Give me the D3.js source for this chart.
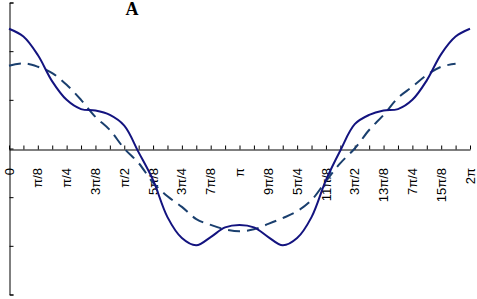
<!DOCTYPE html>
<html>
<head>
<meta charset="utf-8">
<script src="https://cdn.jsdelivr.net/npm/d3@7.9.0/dist/d3.min.js"></script>
<style>
  body { margin: 0; background: #fff; }
  svg { display: block; }
  .lbl { font-family: Arial, "Liberation Sans", sans-serif; font-size: 13px; }
</style>
</head>
<body>
<svg id="chart" width="477" height="299"></svg>
<script>
// Data, sampled every pi/16 from 0 to 2pi
const solidValues = [2.46, 2.30, 1.92, 1.38, 1.00, 0.81, 0.78, 0.69, 0.47, -0.08, -0.65,
  -1.41, -1.84, -1.99, -1.82, -1.62, -1.57, -1.62, -1.82, -1.99, -1.84, -1.41,
  -0.65, -0.04, 0.50, 0.69, 0.78, 0.81, 1.00, 1.40, 1.94, 2.30, 2.46];
const dashedValues = [1.70, 1.75, 1.68, 1.55, 1.31, 1.00, 0.65, 0.38, 0.00, -0.30, -0.70,
  -0.98, -1.20, -1.45, -1.57, -1.66, -1.70, -1.66, -1.55, -1.43, -1.29, -1.06,
  -0.67, -0.30, 0.00, 0.38, 0.69, 1.04, 1.27, 1.51, 1.68, 1.74];
const tickLabels = ["0", "π/8", "π/4", "3π/8", "π/2", "5π/8", "3π/4", "7π/8", "π",
  "9π/8", "5π/4", "11π/8", "3π/2", "13π/8", "7π/4", "15π/8", "2π"];
const yTicks = [-3, -2, -1, 0, 1, 2, 3];

const step = Math.PI / 16;
const svg = d3.select('#chart');

const x = d3.scaleLinear().domain([0, 2 * Math.PI]).range([9, 470]);
const y = d3.scaleLinear().domain([-3, 3]).range([294.5, 2.5]);

// y axis, ticks pointing right
svg.append('g')
  .attr('transform', 'translate(9.5,0)')
  .call(d3.axisRight(y).tickValues(yTicks).tickSize(4).tickFormat(''))
  .call(g => g.selectAll('path, line').attr('stroke', '#000'));

// x axis across the middle, ticks pointing up
svg.append('g')
  .attr('transform', `translate(0,${Math.round(y(0)) + 0.5})`)
  .call(d3.axisTop(x).tickValues(d3.range(33).map(i => i * step))
    .tickSize(4).tickSizeOuter(0).tickFormat(''))
  .call(g => g.selectAll('path, line').attr('stroke', '#000'));

// rotated category labels
svg.append('g').selectAll('text')
  .data(tickLabels)
  .join('text')
  .attr('class', 'lbl')
  .attr('text-anchor', 'end')
  .attr('dy', '0.35em')
  .attr('transform', (d, i) => `translate(${x(i * Math.PI / 8)},168) rotate(-90)`)
  .text(d => d);

const line = d3.line()
  .x((d, i) => x(i * step))
  .y(d => y(d))
  .curve(d3.curveCatmullRom.alpha(0.5));

svg.append('path')
  .attr('d', line(dashedValues))
  .attr('fill', 'none')
  .attr('stroke', '#1a3f6e')
  .attr('stroke-width', 2)
  .attr('stroke-dasharray', '12,7');

svg.append('path')
  .attr('d', line(solidValues))
  .attr('fill', 'none')
  .attr('stroke', '#13137f')
  .attr('stroke-width', 2);

// panel letter
svg.append('text')
  .attr('x', 132)
  .attr('y', 15)
  .attr('text-anchor', 'middle')
  .attr('font-family', '"Times New Roman", "Liberation Serif", serif')
  .attr('font-weight', 'bold')
  .attr('font-size', 18)
  .text('A');
</script>
</body>
</html>
